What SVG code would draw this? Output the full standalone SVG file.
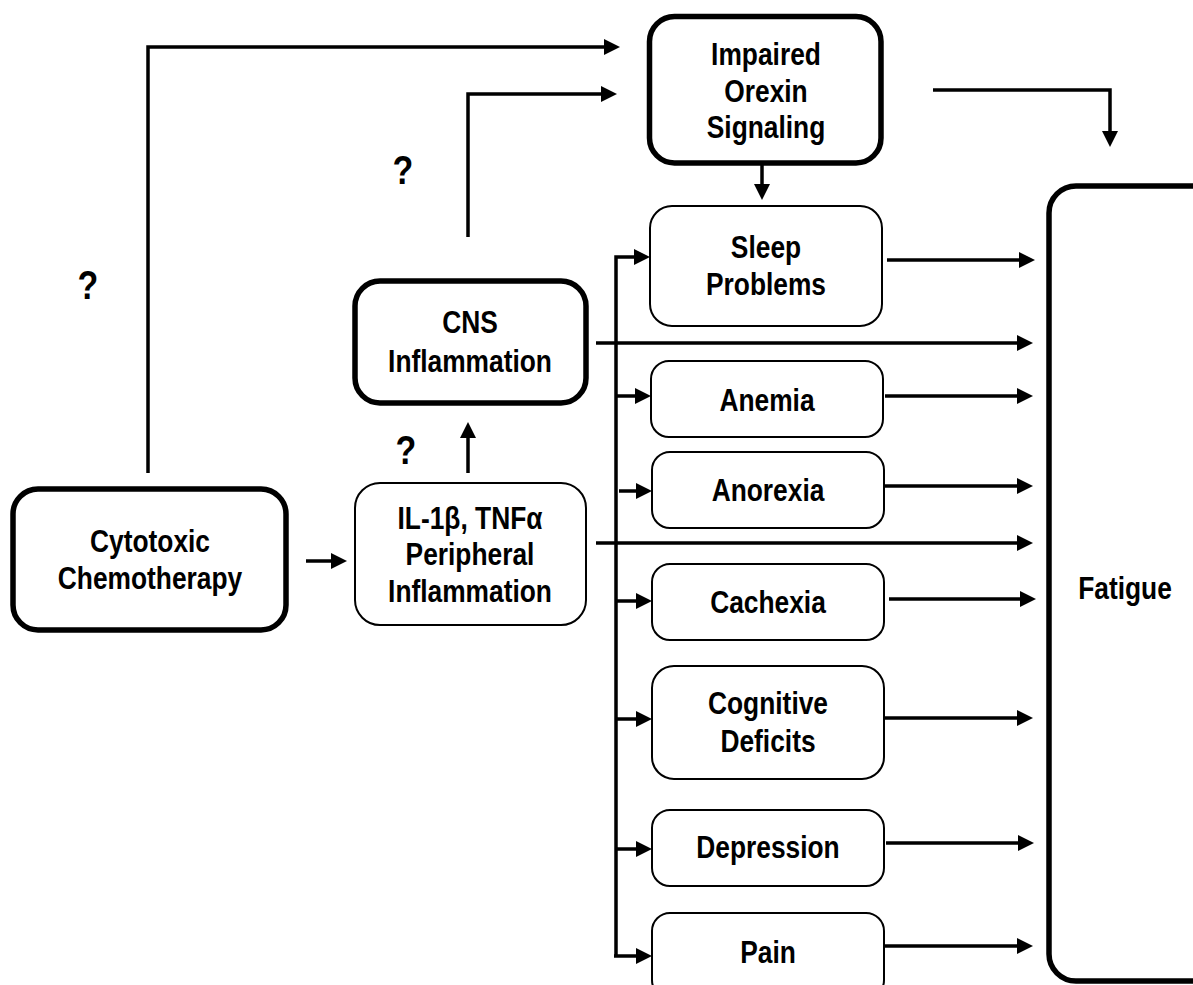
<svg xmlns="http://www.w3.org/2000/svg" width="1193" height="985" viewBox="0 0 1193 985">
<style>
.thin{fill:#fff;stroke:#000;stroke-width:2}
.thick{fill:#fff;stroke:#000;stroke-width:5.5}
.t{font-family:"Liberation Sans",Arial,sans-serif;font-weight:bold;font-size:31px;text-anchor:middle;fill:#000}
.q{font-size:40px}
.c{fill:none;stroke:#000;stroke-width:3.5;marker-end:url(#ah)}
</style>
<defs>
<marker id="ah" markerUnits="userSpaceOnUse" markerWidth="17" markerHeight="17" refX="1" refY="8" orient="auto">
<path d="M0,0 L16,8 L0,16 z" fill="#000"/>
</marker>
</defs>
<rect width="1193" height="985" fill="#fff"/>
<g id="connectors">
<path class="c" d="M148,473 V47 H605"/>
<path class="c" d="M468,237 V94 H602"/>
<path class="c" d="M933,90 H1110 V132"/>
<path class="c" d="M762,165 V185"/>
<path class="c" d="M306,561 H332"/>
<path class="c" d="M468,473 V437"/>
<path class="c" d="M596,343 H1018"/>
<path class="c" d="M596,543 H1018"/>
<path class="c" d="M887,260 H1020"/>
<path class="c" d="M885,396 H1018"/>
<path class="c" d="M885,486 H1018"/>
<path class="c" d="M889,599 H1021"/>
<path class="c" d="M885,718 H1018"/>
<path class="c" d="M886,843 H1019"/>
<path class="c" d="M885,946 H1018"/>
<path class="c" d="M616,956 V257 H635"/>
<path class="c" d="M616,396 H636"/>
<path class="c" d="M619,491 H637"/>
<path class="c" d="M616,601 H637"/>
<path class="c" d="M616,719 H637"/>
<path class="c" d="M616,849 H637"/>
<path class="c" d="M614,956 H637"/>
</g>
<g id="q1"><text class="t q" transform="matrix(0.85 0 0 1 403 0)" y="184">?</text></g>
<g id="q2"><text class="t q" transform="matrix(0.85 0 0 1 88 0)" y="299">?</text></g>
<g id="q3"><text class="t q" transform="matrix(0.85 0 0 1 406 0)" y="464">?</text></g>
<g id="impaired">
<rect class="thick" x="649.5" y="16.5" width="231.5" height="146.5" rx="25"/>
<text class="t" transform="matrix(0.85 0 0 1 766 0)" y="65">Impaired</text>
<text class="t" transform="matrix(0.85 0 0 1 766 0)" y="102">Orexin</text>
<text class="t" transform="matrix(0.85 0 0 1 766 0)" y="138">Signaling</text>
</g>
<g id="cytotoxic">
<rect class="thick" x="13" y="489" width="273" height="141" rx="25"/>
<text class="t" transform="matrix(0.85 0 0 1 150 0)" y="552">Cytotoxic</text>
<text class="t" transform="matrix(0.85 0 0 1 150 0)" y="589">Chemotherapy</text>
</g>
<g id="cns">
<rect class="thick" x="355" y="281" width="231" height="122" rx="25"/>
<text class="t" transform="matrix(0.85 0 0 1 470 0)" y="333">CNS</text>
<text class="t" transform="matrix(0.85 0 0 1 470 0)" y="372">Inflammation</text>
</g>
<g id="il">
<rect class="thin" x="355" y="483" width="231" height="142" rx="25"/>
<text class="t" transform="matrix(0.85 0 0 1 470 0)" y="529">IL-1β, TNFα</text>
<text class="t" transform="matrix(0.85 0 0 1 470 0)" y="565">Peripheral</text>
<text class="t" transform="matrix(0.85 0 0 1 470 0)" y="602">Inflammation</text>
</g>
<g id="sleep">
<rect class="thin" x="650" y="206" width="232" height="120" rx="22"/>
<text class="t" transform="matrix(0.85 0 0 1 766 0)" y="258">Sleep</text>
<text class="t" transform="matrix(0.85 0 0 1 766 0)" y="295">Problems</text>
</g>
<g id="anemia">
<rect class="thin" x="651" y="361" width="232" height="76" rx="18"/>
<text class="t" transform="matrix(0.85 0 0 1 767 0)" y="411">Anemia</text>
</g>
<g id="anorexia">
<rect class="thin" x="652" y="452" width="232" height="76" rx="18"/>
<text class="t" transform="matrix(0.85 0 0 1 768 0)" y="501">Anorexia</text>
</g>
<g id="cachexia">
<rect class="thin" x="652" y="564" width="232" height="76" rx="18"/>
<text class="t" transform="matrix(0.85 0 0 1 768 0)" y="613">Cachexia</text>
</g>
<g id="cognitive">
<rect class="thin" x="652" y="666" width="232" height="113" rx="22"/>
<text class="t" transform="matrix(0.85 0 0 1 768 0)" y="714">Cognitive</text>
<text class="t" transform="matrix(0.85 0 0 1 768 0)" y="752">Deficits</text>
</g>
<g id="depression">
<rect class="thin" x="652" y="810" width="232" height="76" rx="18"/>
<text class="t" transform="matrix(0.85 0 0 1 768 0)" y="858">Depression</text>
</g>
<g id="pain">
<rect class="thin" x="652" y="913" width="232" height="85" rx="18"/>
<text class="t" transform="matrix(0.85 0 0 1 768 0)" y="963">Pain</text>
</g>
<g id="fatigue">
<rect class="thick" x="1049" y="186" width="170" height="795" rx="27" stroke-width="6"/>
<text class="t" transform="matrix(0.85 0 0 1 1125 0)" y="599">Fatigue</text>
</g>
</svg>
